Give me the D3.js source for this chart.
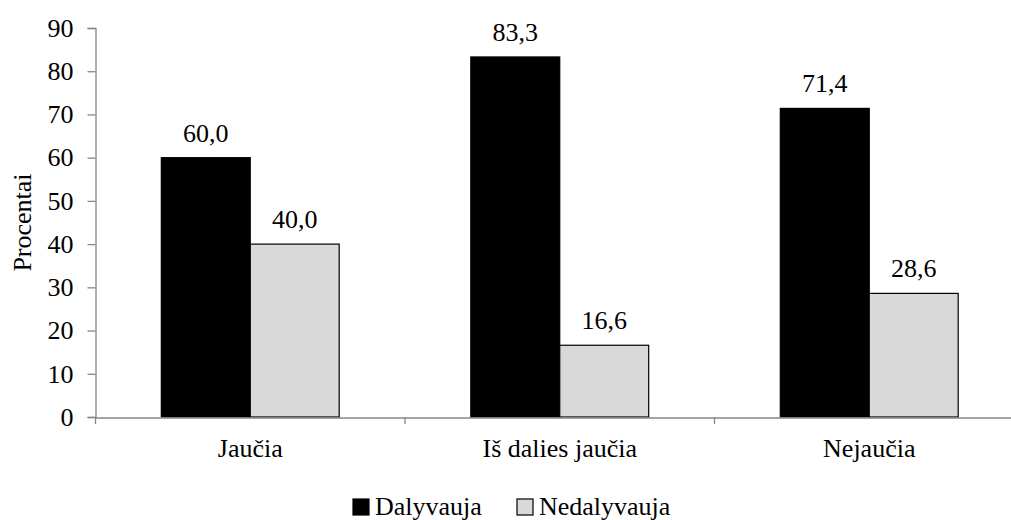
<!DOCTYPE html>
<html>
<head>
<meta charset="utf-8">
<script src="https://cdn.jsdelivr.net/npm/d3@7"></script>
<style>
  html, body { margin: 0; padding: 0; background: #fff; }
  svg { display: block; }
</style>
</head>
<body>
<svg id="chart" width="1011" height="520" viewBox="0 0 1011 520"></svg>
<script>
const categories = ["Jaučia", "Iš dalies jaučia", "Nejaučia"];
const seriesNames = ["Dalyvauja", "Nedalyvauja"];
const dalyvauja = [60.0, 83.3, 71.4];
const nedalyvauja = [40.0, 16.6, 28.6];
const yTicks = [0, 10, 20, 30, 40, 50, 60, 70, 80, 90];
const seriesColors = ["#000000", "#d9d9d9"];

const rows = categories.map((c, i) => ({ cat: c, values: [dalyvauja[i], nedalyvauja[i]] }));

const FONT = "Liberation Serif, Tinos, Times New Roman, DejaVu Serif, serif";
const FS = "26px";
const svg = d3.select("#chart");
const axisColor = "#868686";

function serif(sel) {
  return sel.attr("font-family", FONT).attr("font-size", FS)
    .style("font-family", FONT).style("font-size", FS);
}

const x0 = d3.scaleBand().domain(categories).range([95.5, 1024]).paddingInner(0).paddingOuter(0);
const x1 = d3.scaleBand().domain(seriesNames).range([0, x0.bandwidth()]).paddingInner(0).paddingOuter(0.74);
const y = d3.scaleLinear().domain([0, 90]).range([417, 28]);

// bars
const groups = svg.append("g").selectAll("g").data(rows).join("g")
  .attr("transform", d => `translate(${x0(d.cat)},0)`);

groups.selectAll("rect").data(d => d.values.map((v, k) => ({ v, k }))).join("rect")
  .attr("x", d => x1(seriesNames[d.k]))
  .attr("y", d => y(d.v))
  .attr("width", x1.bandwidth())
  .attr("height", d => y(0) - y(d.v))
  .attr("fill", d => seriesColors[d.k])
  .attr("stroke", "#000")
  .attr("stroke-width", 1.2);

// value labels
const fmt = v => v.toFixed(1).replace(".", ",");
groups.selectAll("text.val").data(d => d.values.map((v, k) => ({ v, k }))).join("text")
  .attr("class", "val")
  .attr("x", d => x1(seriesNames[d.k]) + x1.bandwidth() / 2)
  .attr("y", d => y(d.v) - 16)
  .attr("text-anchor", "middle")
  .attr("fill", "#000")
  .call(serif)
  .text(d => fmt(d.v));

// y axis
const yAxis = svg.append("g").attr("transform", "translate(95.5,0)")
  .call(d3.axisLeft(y).tickValues(yTicks).tickSize(8).tickPadding(14).tickFormat(d3.format("d")));
yAxis.select(".domain").attr("stroke", axisColor).attr("stroke-width", 1.3);
yAxis.selectAll(".tick line").attr("stroke", axisColor).attr("stroke-width", 1.3);
yAxis.selectAll(".tick text").attr("fill", "#000").call(serif);

// x axis
const xAxis = svg.append("g").attr("transform", "translate(0,417.5)")
  .call(d3.axisBottom(x0).tickSize(0).tickPadding(21));
xAxis.select(".domain").attr("stroke", axisColor).attr("stroke-width", 1.3);
xAxis.selectAll(".tick text").attr("fill", "#000").call(serif);
// category boundary ticks
const bounds = categories.map(c => x0(c)).concat([x0.range()[1]]);
svg.append("g").selectAll("line").data(bounds).join("line")
  .attr("x1", d => d).attr("x2", d => d)
  .attr("y1", 417.5).attr("y2", 424)
  .attr("stroke", axisColor).attr("stroke-width", 1.3);

// y axis title
svg.append("text")
  .attr("transform", "translate(31,222.5) rotate(-90)")
  .attr("text-anchor", "middle")
  .call(serif)
  .text("Procentai");

// legend
const legendX = [353, 517];
const legend = svg.append("g").selectAll("g").data(seriesNames).join("g")
  .attr("transform", (d, i) => `translate(${legendX[i]},499)`);
legend.append("rect")
  .attr("width", 16).attr("height", 16)
  .attr("fill", (d, i) => seriesColors[i])
  .attr("stroke", "#000").attr("stroke-width", 1.2);
legend.append("text")
  .attr("x", 22).attr("y", 16)
  .call(serif)
  .text(d => d);
</script>
</body>
</html>
